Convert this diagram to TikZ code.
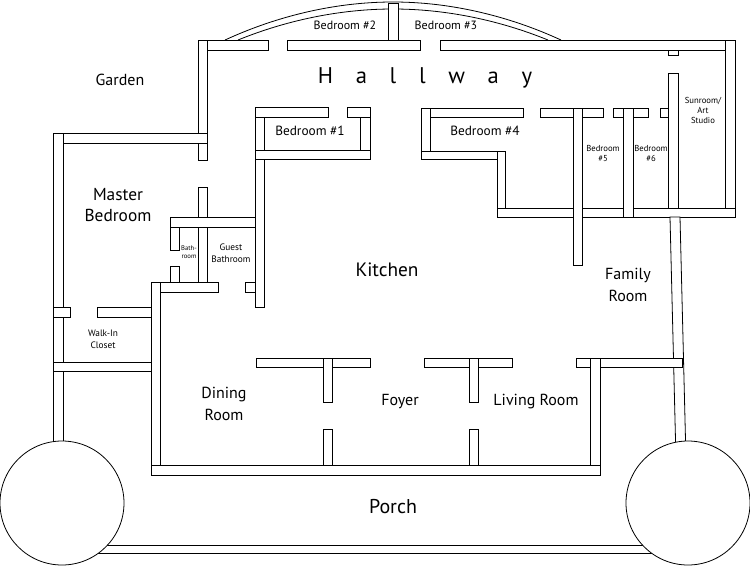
\documentclass[tikz,border=0pt]{standalone}
\usepackage{fontspec}
\setmainfont{PT Sans}
\begin{document}
\begin{tikzpicture}[x=0.75pt,y=-0.75pt,
  wall/.style={draw=black,fill=white,line width=0.6pt},
  lbl/.style={font=\fontsize{12}{13}\selectfont,align=center,inner sep=0pt},
  sm/.style={font=\fontsize{9}{10}\selectfont,align=center,inner sep=0pt},
  xs/.style={font=\fontsize{6.5}{7.5}\selectfont,align=center,inner sep=0pt}]
\useasboundingbox (0,0) rectangle (750,586);
\newcommand\wl[4]{\draw[wall] (#1,#2) rectangle (#3,#4);}
% arc roof
\draw[line width=0.6pt] (225,40) parabola bend (393,2) (561,40);
\draw[line width=0.6pt] (238,40) parabola bend (393,9) (548,40);
\wl{388}{3}{398}{50}
% top hallway wall
\wl{198}{40}{268}{50}\wl{287}{40}{420}{50}\wl{440}{40}{735}{50}
\wl{725}{40}{735}{216}
% hallway left wall
\wl{198}{40}{207}{160}\wl{198}{187}{207}{290}
% master bedroom
\wl{53}{133}{207}{143}
\wl{53}{133}{63}{448}
% closet
\wl{53}{307}{70}{317}\wl{97}{307}{160}{317}
\wl{53}{362}{160}{371}
% bathrooms
\wl{170}{217}{264}{227}
\wl{170}{227}{179}{250}\wl{170}{266}{179}{292}
\wl{151}{282}{218}{292}\wl{245}{282}{264}{292}
\wl{151}{282}{160}{475}
\wl{255}{107}{264}{307}
% bedroom 1
\wl{255}{107}{328}{117}\wl{347}{107}{370}{117}
\wl{360}{117}{370}{150}
\wl{255}{150}{370}{159}
% bedroom 4 etc
\wl{421}{108}{523}{117}\wl{540}{108}{603}{117}\wl{613}{108}{648}{117}\wl{660}{108}{678}{117}
\wl{421}{108}{430}{159}
\wl{421}{151}{505}{159}
\wl{497}{151}{505}{217}
\wl{497}{208}{735}{217}
\wl{573}{108}{582}{265}
\wl{623}{108}{633}{217}
\wl{668}{50}{678}{55}\wl{668}{73}{678}{208}
% family room right wall
\draw[wall] (670,217) -- (680,217) -- (686,460) -- (676,460) -- cycle;
% dining / foyer / living
\wl{256}{358}{370}{367}\wl{424}{358}{512}{367}\wl{576}{358}{682}{367}
\wl{323}{358}{332}{402}\wl{323}{429}{332}{475}
\wl{469}{358}{478}{402}\wl{469}{429}{478}{475}
\wl{590}{358}{600}{475}
\wl{151}{465}{600}{475}
% porch
\wl{95}{545}{655}{553}
\draw[wall] (62,503) circle (62);
\draw[wall] (688,503) circle (62);
% labels
\node[lbl] at (120,80) {Garden};
\node[font=\fontsize{17}{18}\selectfont,inner sep=0pt] at (425,78) {H\hspace{1.0em}a\hspace{1.0em}l\hspace{1.0em}l\hspace{1.0em}w\hspace{1.0em}a\hspace{1.0em}y};
\node[sm] at (345,25) {Bedroom \#2};
\node[sm] at (446,25) {Bedroom \#3};
\node[font=\fontsize{10}{11}\selectfont,inner sep=0pt] at (310,131) {Bedroom \#1};
\node[font=\fontsize{10}{11}\selectfont,inner sep=0pt] at (485,131) {Bedroom \#4};
\node[xs] at (603,153) {Bedroom\\\#5};
\node[xs] at (651,153) {Bedroom\\\#6};
\node[xs] at (703,110) {Sunroom/\\Art\\Studio};
\node[font=\fontsize{13}{16}\selectfont,align=center,inner sep=0pt] at (118,205) {Master\\Bedroom};
\node[font=\fontsize{5}{6}\selectfont,align=center,inner sep=0pt] at (189,252) {Bath-\\room};
\node[font=\fontsize{7}{9}\selectfont,align=center,inner sep=0pt] at (231,253) {Guest\\Bathroom};
\node[font=\fontsize{14.5}{16}\selectfont,inner sep=0pt] at (387,270) {Kitchen};
\node[font=\fontsize{12}{16}\selectfont,align=center,inner sep=0pt] at (628,285) {Family\\Room};
\node[font=\fontsize{7}{9}\selectfont,align=center,inner sep=0pt] at (103,339) {Walk-In\\Closet};
\node[font=\fontsize{12}{16}\selectfont,align=center,inner sep=0pt] at (224,404) {Dining\\Room};
\node[lbl] at (400,402) {Foyer};
\node[lbl] at (536,402) {Living Room};
\node[font=\fontsize{15}{16}\selectfont,inner sep=0pt] at (393,507) {Porch};
\end{tikzpicture}
\end{document}
